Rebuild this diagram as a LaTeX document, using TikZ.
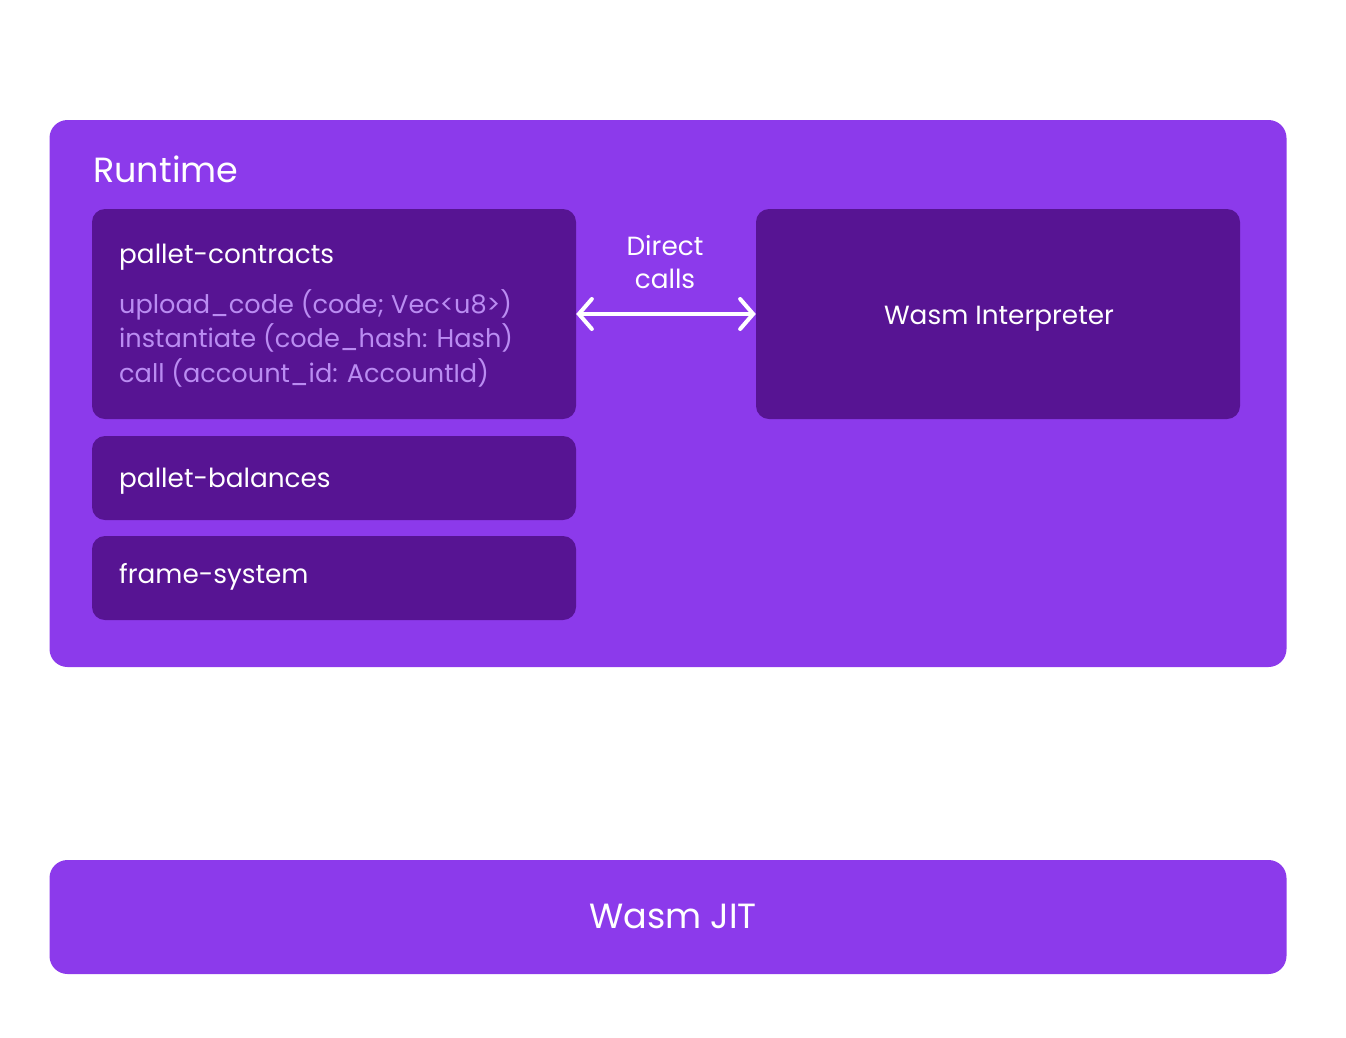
\documentclass[tikz,border=0pt]{standalone}
\usepackage{fontspec}
\setmainfont{Poppins}
\usetikzlibrary{arrows.meta}
\definecolor{runtimepurple}{RGB}{140,58,235}
\definecolor{palletpurple}{RGB}{87,20,147}
\definecolor{methodlilac}{RGB}{186,140,242}

\begin{document}
\begin{tikzpicture}[x=1pt,y=-1pt,
  outerbox/.style={fill=runtimepurple, rounded corners=18pt, inner sep=0pt, minimum width=1237pt},
  palletbox/.style={fill=palletpurple, rounded corners=13pt, inner sep=0pt, minimum width=484pt},
  bigtext/.style={text=white, font=\fontsize{35}{40}\selectfont, inner sep=0pt},
  boxtext/.style={text=white, font=\fontsize{26.3}{32.5}\selectfont, inner sep=0pt},
  methodtext/.style={text=methodlilac, font=\fontsize{25.6}{34.5}\selectfont, inner sep=0pt, align=left}]
\useasboundingbox (0,0) rectangle (1346,1037);

\node[outerbox, minimum height=547pt] (runtime) at (668,393.5) {};
\node[outerbox, minimum height=114pt] (jit) at (668,917) {};

\node[palletbox, minimum height=210pt] (contracts) at (334,314) {};
\node[palletbox, minimum height=84pt] (balances) at (334,478) {};
\node[palletbox, minimum height=84pt] (system) at (334,578) {};
\node[palletbox, minimum height=210pt] (interp) at (998,314) {};

\node[bigtext, anchor=base west] (runtimelabel) at (93,182) {Runtime};
\node[bigtext, anchor=base] (jitlabel) at (673,928) {Wasm JIT};
\node[boxtext, anchor=base west] (contractslabel) at (119,263) {pallet-contracts};
% base of a multi-line node is its last line
\node[methodtext, anchor=base west] (methods) at (119,382) {upload\_code (code; Vec<u8>)\\instantiate (code\_hash: Hash)\\call (account\_id: AccountId)};
\node[boxtext, anchor=base west] (balanceslabel) at (119,487) {pallet-balances};
\node[boxtext, anchor=base west] (systemlabel) at (119,583) {frame-system};
\node[boxtext, anchor=base] (interplabel) at (999,324) {Wasm Interpreter};
\node[boxtext, anchor=base, align=center] (calls) at (665,288) {Direct\\calls};

\path[draw, white, line width=4pt, {Straight Barb[length=13pt,width=30pt,line cap=round]}-{Straight Barb[length=13pt,width=30pt,line cap=round]}] (contracts.east) -- (interp.west);
\end{tikzpicture}
\end{document}
